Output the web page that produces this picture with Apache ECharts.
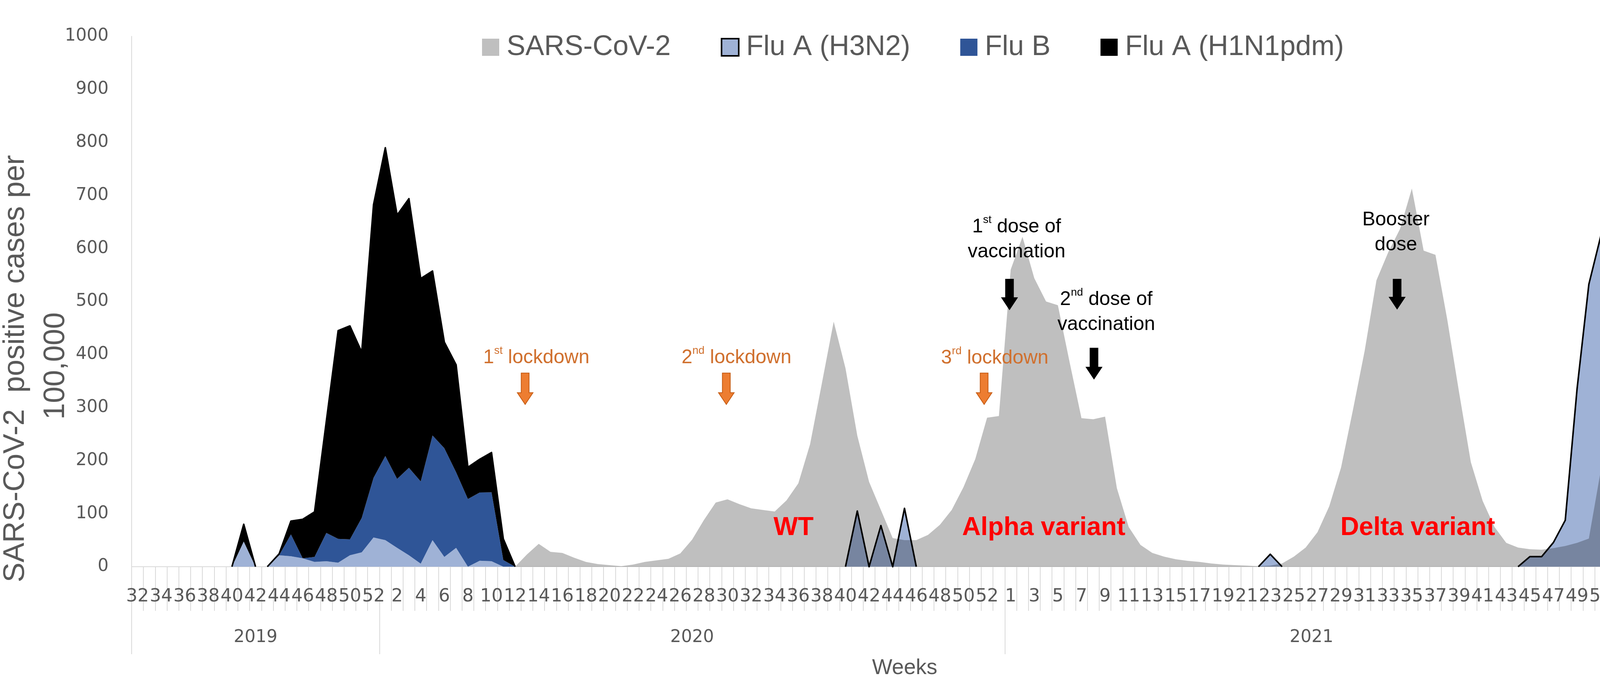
<!DOCTYPE html>
<html>
<head>
<meta charset="utf-8">
<script src="https://cdn.jsdelivr.net/npm/echarts@6/dist/echarts.min.js"></script>
<style>
  html, body { margin: 0; padding: 0; background: #fff; overflow: hidden; }
  #chart { width: 4550px; height: 1736px; }
</style>
</head>
<body>
<div id="chart"></div>
<script>
// week categories: 2019 w32-52, 2020 w1-53, 2021 w1-52, 2022 w1-4, one blank slot
const weekLabels = [
  '32','33','34','35','36','37','38','39','40','41','42','43','44','45','46','47','48','49','50','51','52',
  '1','2','3','4','5','6','7','8','9','10','11','12','13','14','15','16','17','18','19','20',
  '21','22','23','24','25','26','27','28','29','30','31','32','33','34','35','36','37','38','39','40',
  '41','42','43','44','45','46','47','48','49','50','51','52','53',
  '1','2','3','4','5','6','7','8','9','10','11','12','13','14','15','16','17','18','19','20',
  '21','22','23','24','25','26','27','28','29','30','31','32','33','34','35','36','37','38','39','40',
  '41','42','43','44','45','46','47','48','49','50','51','52',
  '1','2','3','4',
  ''
];
const yearNames = ['2019', '2020', '2021', '2022'];
const yearWeekCounts = [21, 53, 52, 4];

// SARS-CoV-2 positive cases per 100,000 (left axis)
const sars = [
  0,0,0,0,0,0,0,0,0,0,0,0,0,0,0,0,0,0,0,0,0,
  0,0,0,0,0,0,0,0,0,0,0,
  0,23,43,28,26,17,9,5,3,1,4,9,12,15,25,51,88,121,127,118,110,107,104,125,157,231,346,462,374,247,160,107,54,50,50,60,79,107,150,203,281,284,
  560,622,544,500,493,385,280,278,283,148,75,41,26,19,14,11,9,6,4,3,2,1,2,6,19,36,
  65,114,187,295,407,540,593,637,713,596,588,466,329,197,124,75,45,36,33,32,35,39,45,53,180,370,
  1500,3500,4771,4500,4000
];

// % hospitalized influenza cases (right axis)
const h3n2 = [
  0,0,0,0,0,0,0,0,0,1.9,0,0,0.86,0.79,0.63,0.36,0.41,0.3,0.86,1.08,2.2,
  2.0,1.42,0.86,0.23,2.0,0.74,1.42,0,0.45,0.41,0,
  0,0,0,0,0,0,0,0,0,0,0,0,0,0,0,0,0,0,0,0,0,0,0,0,0,0,0,0,0,
  4.2,0,3.1,0,4.4,0,0,0,0,0,0,0,0,
  0,0,0,0,0,0,0,0,0,0,0,0,0,0,0,0,0,0,0,0,0,0,
  0.94,
  0,0,0,0,0,0,0,0,0,0,0,0,0,0,0,0,0,0,0,0,0,
  0.76,0.76,1.83,3.5,13.4,21.3,24.9,32.4,
  34.2,20.7,8.8,3.8,null
];
const fluB = [
  0,0,0,0,0,0,0,0,0,0,0,0,0,1.65,0,0.38,2.14,1.8,1.2,2.6,4.5,
  6.35,5.2,6.6,6.2,7.9,8.2,5.7,5.1,5.15,5.2,0.5,
  0,0,0,0,0,0,0,0,0,0,0,0,0,0,0,0,0,0,0,0,0,0,0,0,0,0,0,0,0,0,0,0,0,0,0,0,0,0,0,0,0,0,
  0,0,0,0,0,0,0,0,0,0,0,0,0,0,0,0,0,0,0,0,0,0,0,0,0,0,
  0,0,0,0,0,0,0,0,0,0,0,0,0,0,0,0,0,0,0,0,0,0,0,0,0,0,
  0,0,0,0,null
];
const h1n1 = [
  0,0,0,0,0,0,0,0,0,1.3,0,0,0.11,1.0,2.94,3.39,8.42,15.7,16.1,12.5,20.6,
  23.25,19.9,20.3,15.3,12.4,8.0,8.1,2.4,2.5,3.0,1.6,
  0,0,0,0,0,0,0,0,0,0,0,0,0,0,0,0,0,0,0,0,0,0,0,0,0,0,0,0,0,0,0,0,0,0,0,0,0,0,0,0,0,0,
  0,0,0,0,0,0,0,0,0,0,0,0,0,0,0,0,0,0,0,0,0,0,0,0,0,0,
  0,0,0,0,0,0,0,0,0,0,0,0,0,0,0,0,0,0,0,0,0,0,0,0,0,0,
  0,0,0,0,null
];

const SANS = 'Liberation Sans, Arial, sans-serif';
const TICK = 'DejaVu Sans, Verdana, sans-serif';
const GREY_TXT = '#595959';
const AXIS_GREY = '#d9d9d9';

// black outline around the flu stack, only where the stack has height
const fluTotal = h3n2.map((v, i) => v == null ? null : v + (fluB[i] || 0) + (h1n1[i] || 0));
const outline = [];
fluTotal.forEach((t, i) => {
  const last = outline[outline.length - 1];
  const near = t != null && (t > 0 || fluTotal[i - 1] > 0 || fluTotal[i + 1] > 0);
  if (!near) {
    if (last) outline.push(null);
    return;
  }
  if (t === 0 && last && last[1] === 0) outline.push(null);
  outline.push([i + 0.5, t]);
  if (t > 0 && fluTotal[i + 1] == null) outline.push([i + 0.5, 0]);
});

// year groups on a value axis spanning the category slots
const yearBounds = [0];
yearWeekCounts.forEach(n => yearBounds.push(yearBounds[yearBounds.length - 1] + n));
yearBounds.push(weekLabels.length);
const yearCenters = yearNames.map((y, i) => (yearBounds[i] + yearBounds[i + 1]) / 2);

const chart = echarts.init(document.getElementById('chart'));

const option = {
  backgroundColor: '#fff',
  animation: false,
  textStyle: { fontFamily: SANS },
  grid: { left: 337, right: 256, top: 93, bottom: 285 },
  legend: {
    left: 1229,
    top: 80,
    icon: 'rect',
    itemWidth: 44,
    itemHeight: 44,
    itemGap: 128,
    itemStyle: { borderWidth: 0 },
    textStyle: { fontSize: 72, fontFamily: SANS, color: GREY_TXT, padding: [0, 0, 0, 14] },
    data: [
      'SARS-CoV-2',
      { name: 'Flu A (H3N2)', itemStyle: { borderColor: '#000', borderWidth: 4 } },
      'Flu B',
      'Flu A (H1N1pdm)'
    ]
  },
  xAxis: [
    {
      type: 'category',
      data: weekLabels,
      boundaryGap: true,
      axisLine: { show: true, lineStyle: { color: AXIS_GREY, width: 2 } },
      axisTick: { show: true, interval: 0, length: 113, lineStyle: { color: AXIS_GREY, width: 2 } },
      axisLabel: { interval: 1, fontSize: 46, fontFamily: TICK, color: GREY_TXT, margin: 54 },
      splitLine: { show: false }
    },
    {
      type: 'value',
      min: 0,
      max: weekLabels.length,
      position: 'bottom',
      axisLine: { show: false },
      axisTick: { show: true, customValues: yearBounds, length: 224, lineStyle: { color: AXIS_GREY, width: 2 } },
      axisLabel: {
        show: true,
        customValues: yearCenters,
        formatter: v => yearNames[yearCenters.indexOf(v)] || '',
        fontSize: 44, fontFamily: TICK, color: GREY_TXT, margin: 160
      },
      splitLine: { show: false }
    }
  ],
  yAxis: [
    {
      type: 'value',
      min: 0, max: 1000, interval: 100,
      axisLine: { show: true, lineStyle: { color: AXIS_GREY, width: 2 } },
      axisTick: { show: false },
      splitLine: { show: false },
      axisLabel: { fontSize: 44, fontFamily: TICK, color: GREY_TXT, margin: 59, formatter: v => String(v) }
    },
    {
      type: 'value',
      position: 'right',
      min: 0, max: 40, interval: 5,
      axisLine: { show: false },
      axisTick: { show: false },
      splitLine: { show: false },
      axisLabel: { fontSize: 44, fontFamily: TICK, color: GREY_TXT, margin: 49, formatter: v => String(v) }
    }
  ],
  series: [
    {
      name: 'Flu A (H3N2)', type: 'line', stack: 'flu', yAxisIndex: 1, data: h3n2,
      symbol: 'none', lineStyle: { width: 0 },
      itemStyle: { color: '#9fb2d6' }, areaStyle: { color: '#9fb2d6', opacity: 1 }, z: 2
    },
    {
      name: 'Flu B', type: 'line', stack: 'flu', yAxisIndex: 1, data: fluB,
      symbol: 'none', lineStyle: { width: 0 },
      itemStyle: { color: '#2f5597' }, areaStyle: { color: '#2f5597', opacity: 1 }, z: 2
    },
    {
      name: 'Flu A (H1N1pdm)', type: 'line', stack: 'flu', yAxisIndex: 1, data: h1n1,
      symbol: 'none', lineStyle: { width: 0 },
      itemStyle: { color: '#000' }, areaStyle: { color: '#000', opacity: 1 }, z: 2
    },
    {
      name: 'flu outline', type: 'line', xAxisIndex: 1, yAxisIndex: 1, data: outline,
      symbol: 'none', lineStyle: { width: 4, color: '#000', join: 'round' },
      itemStyle: { color: '#000' }, z: 2
    },
    {
      name: 'SARS-CoV-2', type: 'line', yAxisIndex: 0, data: sars,
      symbol: 'none', lineStyle: { width: 0 },
      itemStyle: { color: '#bfbfbf' }, areaStyle: { color: '#bfbfbf', opacity: 1 },
      blendMode: 'multiply', z: 3
    }
  ]
};

chart.setOption(option);

// annotations, placed in data space (x in week slots, y on the left axis)
const ORANGE_TXT = '#d0702e';
const sup = (n, s, rest) => '{a|' + n + '}{s|' + s + '}{a|' + rest + '}';
const notes = [
  { text: sup('1', 'st', ' lockdown'), x: 34.3, y: 394, color: ORANGE_TXT },
  { text: sup('2', 'nd', ' lockdown'), x: 51.26, y: 394, color: ORANGE_TXT },
  { text: sup('3', 'rd', ' lockdown'), x: 73.15, y: 393, color: ORANGE_TXT },
  { text: sup('1', 'st', ' dose of') + '\n{a|vaccination}', x: 75.0, y: 617, color: '#000' },
  { text: sup('2', 'nd', ' dose of') + '\n{a|vaccination}', x: 82.6, y: 480, color: '#000' },
  { text: '{a|Booster}\n{a|dose}', x: 107.15, y: 630, color: '#000' }
];
const arrows = [
  { x: 33.35, top: 365, bottom: 306, fill: '#ed7d31', stroke: '#c55a11' },
  { x: 50.4, top: 365, bottom: 306, fill: '#ed7d31', stroke: '#c55a11' },
  { x: 72.25, top: 365, bottom: 306, fill: '#ed7d31', stroke: '#c55a11' },
  { x: 74.4, top: 542, bottom: 485, fill: '#000', stroke: '#000' },
  { x: 81.56, top: 412, bottom: 354, fill: '#000', stroke: '#000' },
  { x: 107.25, top: 542, bottom: 486, fill: '#000', stroke: '#000' }
];
const variants = [
  { text: 'WT', x: 56.1, y: 73 },
  { text: 'Alpha variant', x: 77.3, y: 73 },
  { text: 'Delta variant', x: 109.0, y: 73 }
];

function px(x, y) {
  return chart.convertToPixel({ xAxisIndex: 1, yAxisIndex: 0 }, [x, y]);
}

const graphics = [];

notes.forEach(n => {
  const p = px(n.x, n.y);
  graphics.push({
    type: 'text', x: p[0], y: p[1], z: 100,
    style: {
      text: n.text,
      align: 'center', verticalAlign: 'middle',
      textAlign: 'center', textVerticalAlign: 'middle',
      fill: n.color,
      rich: {
        a: { fontSize: 50, fontFamily: SANS, lineHeight: 64, fill: n.color, color: n.color },
        s: { fontSize: 28, fontFamily: SANS, lineHeight: 40, verticalAlign: 'top', fill: n.color, color: n.color }
      }
    }
  });
});

arrows.forEach(a => {
  const t = px(a.x, a.top);
  const b = px(a.x, a.bottom);
  const cx = t[0];
  const head = 30;
  graphics.push({
    type: 'polygon', z: 100,
    shape: {
      points: [
        [cx - 10, t[1]], [cx + 10, t[1]], [cx + 10, b[1] - head], [cx + 20, b[1] - head],
        [cx, b[1]], [cx - 20, b[1] - head], [cx - 10, b[1] - head]
      ]
    },
    style: { fill: a.fill, stroke: a.stroke, lineWidth: 2 }
  });
});

variants.forEach(v => {
  const p = px(v.x, v.y);
  graphics.push({
    type: 'text', x: p[0], y: p[1], z: 100,
    style: {
      text: v.text, fontSize: 66, fontWeight: 'bold', fontFamily: SANS, fill: '#ff0000',
      align: 'center', verticalAlign: 'middle', textAlign: 'center', textVerticalAlign: 'middle'
    }
  });
});

// Omicron label, vertical
(function () {
  const p = px(128.7, 736);
  graphics.push({
    type: 'text', x: p[0], y: p[1], rotation: Math.PI / 2, z: 100,
    style: {
      text: 'Omicron variant', fontSize: 66, fontWeight: 'bold', fontFamily: SANS, fill: '#ff0000',
      align: 'center', verticalAlign: 'middle', textAlign: 'center', textVerticalAlign: 'middle'
    }
  });
})();

// off-scale peak: break mark and value
(function () {
  let maxI = 0;
  sars.forEach((v, i) => { if (v > sars[maxI]) maxI = i; });
  const lbl = px(maxI + 0.5, 1018);
  graphics.push({
    type: 'text', x: lbl[0], y: lbl[1], z: 100,
    style: {
      text: String(sars[maxI]), fontSize: 40, fontFamily: TICK, fill: '#404040',
      align: 'center', verticalAlign: 'middle', textAlign: 'center', textVerticalAlign: 'middle'
    }
  });
  const w1 = px(125.93, 934), w2 = px(130.9, 977);
  graphics.push({
    type: 'line', z: 90,
    shape: { x1: w1[0], y1: w1[1], x2: w2[0], y2: w2[1] },
    style: { stroke: '#fff', lineWidth: 8 }
  });
  const g1 = px(124.97, 945), g2 = px(131.16, 994.5);
  graphics.push({
    type: 'line', z: 91,
    shape: { x1: g1[0], y1: g1[1], x2: g2[0], y2: g2[1] },
    style: { stroke: '#bfbfbf', lineWidth: 19 }
  });
})();

// axis titles
graphics.push({
  type: 'text', x: 40, y: 944, rotation: Math.PI / 2, z: 100,
  style: {
    text: 'SARS-CoV-2  positive cases per', fontSize: 76, fontFamily: SANS, fill: GREY_TXT,
    align: 'center', verticalAlign: 'middle', textAlign: 'center', textVerticalAlign: 'middle'
  }
});
graphics.push({
  type: 'text', x: 143, y: 937, rotation: Math.PI / 2, z: 100,
  style: {
    text: '100,000', fontSize: 76, fontFamily: SANS, fill: GREY_TXT,
    align: 'center', verticalAlign: 'middle', textAlign: 'center', textVerticalAlign: 'middle'
  }
});
graphics.push({
  type: 'text', x: 4498, y: 946, rotation: Math.PI / 2, z: 100,
  style: {
    text: '% Hospitalized  Influenza cases', fontSize: 76, fontFamily: SANS, fill: GREY_TXT,
    align: 'center', verticalAlign: 'middle', textAlign: 'center', textVerticalAlign: 'middle'
  }
});
graphics.push({
  type: 'text', x: 2316, y: 1711, z: 100,
  style: {
    text: 'Weeks', fontSize: 55, fontFamily: SANS, fill: GREY_TXT,
    align: 'center', verticalAlign: 'middle', textAlign: 'center', textVerticalAlign: 'middle'
  }
});

chart.setOption({ graphic: graphics });
</script>
</body>
</html>
